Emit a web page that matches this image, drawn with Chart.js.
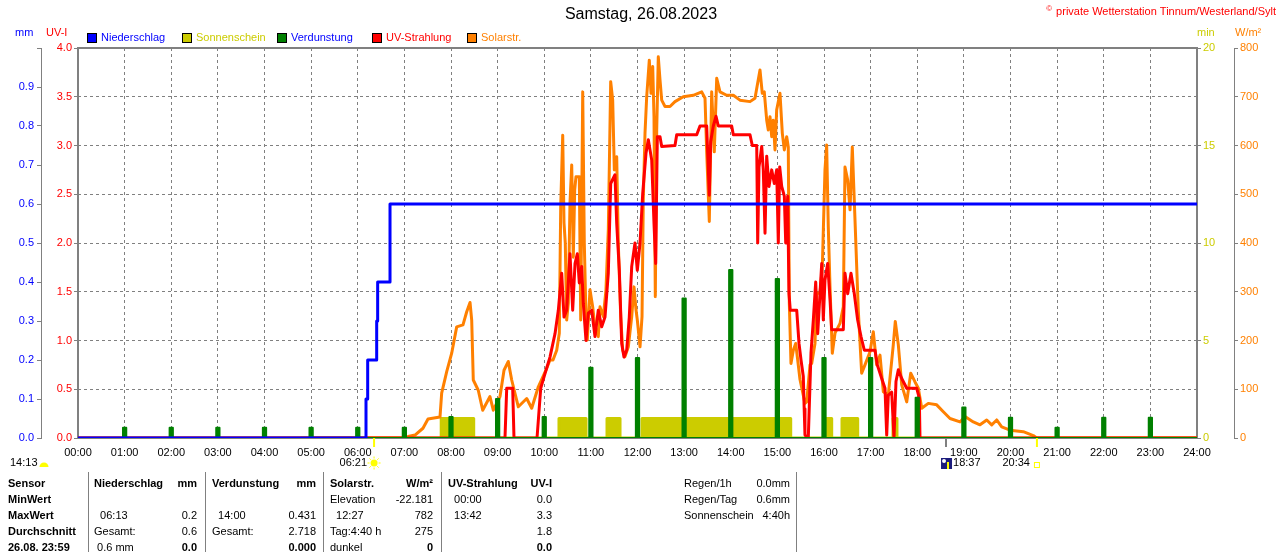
<!DOCTYPE html>
<html>
<head>
<meta charset="utf-8">
<title>Samstag, 26.08.2023</title>
<script src="https://cdn.jsdelivr.net/npm/chart.js@4.4.0/dist/chart.umd.min.js"></script>
<style>
  html, body { margin: 0; padding: 0; background: #fff; }
  #wrap { width: 1280px; height: 552px; position: relative; }
</style>
</head>
<body>
<div id="wrap"><canvas id="weatherChart" width="1280" height="552"></canvas></div>
<script>
// --- data (time in hours of the day) ---
const xTickLabels = ['00:00', '01:00', '02:00', '03:00', '04:00', '05:00', '06:00', '07:00', '08:00',
    '09:00', '10:00', '11:00', '12:00', '13:00', '14:00', '15:00', '16:00', '17:00', '18:00',
    '19:00', '20:00', '21:00', '22:00', '23:00', '24:00'];
const mmTickLabels = ['0.0', '0.1', '0.2', '0.3', '0.4', '0.5', '0.6', '0.7', '0.8', '0.9', ''];
const uvTickLabels = ['0.0', '0.5', '1.0', '1.5', '2.0', '2.5', '3.0', '3.5', '4.0'];
const sunTickLabels = ['0', '5', '10', '15', '20'];
const solarTickLabels = ['0', '100', '200', '300', '400', '500', '600', '700', '800'];

const legendLabels = ['Niederschlag', 'Sonnenschein', 'Verdunstung', 'UV-Strahlung', 'Solarstr.'];

// Niederschlag (mm, cumulative)
const rainTimes = [0, 6.177, 6.213, 6.406, 6.427, 6.692, 24];
const rainValues = [0, 0.1, 0.2, 0.3, 0.4, 0.6, 0.6];

// Sonnenschein (min)
const sunTimes = [4.77, 7.79, 8.487, 10.316, 10.896, 11.346, 11.625, 12.097, 15.286, 16.021, 16.165, 16.386, 16.723, 17.48, 17.565, 24];
const sunValues = [0, 1, 0, 1, 0, 1, 0, 1, 0, 1, 0, 1, 0, 1, 0, 0];

// Verdunstung (mm per hour)
const evapHours = [1, 2, 3, 4, 5, 6, 7, 8, 9, 10, 11, 12, 13, 14, 15, 16, 17, 18, 19, 20, 21, 22, 23];
const evapValues = [0.026, 0.026, 0.026, 0.026, 0.026, 0.026, 0.026, 0.054, 0.1, 0.054, 0.18, 0.205,
    0.358, 0.431, 0.408, 0.205, 0.205, 0.103, 0.078, 0.052, 0.026, 0.052, 0.052];

// UV-Strahlung (UV-I)
const uvTimes = [
    0, 9.158, 9.195, 9.323, 9.351, 9.845, 9.924, 10.016, 10.123, 10.231,
    10.302, 10.374, 10.424, 10.481, 10.552, 10.61, 10.66, 10.709, 10.752, 10.803,
    10.838, 10.895, 10.945, 11.018, 11.088, 11.159, 11.232, 11.303, 11.374, 11.425,
    11.517, 11.554, 11.61, 11.661, 11.71, 11.768, 11.824, 11.876, 11.946, 11.996,
    12.054, 12.112, 12.182, 12.232, 12.305, 12.354, 12.39, 12.425, 12.483, 12.519,
    12.804, 12.841, 13.27, 13.34, 13.484, 13.54, 13.57, 13.626, 13.684, 13.733,
    14.02, 14.055, 14.413, 14.462, 14.557, 14.578, 14.606, 14.664, 14.698, 14.735,
    14.771, 14.82, 14.878, 14.934, 14.985, 15.02, 15.05, 15.093, 15.149, 15.179,
    15.221, 15.249, 15.277, 15.415, 15.464, 15.507, 15.556, 15.575, 15.592, 15.663,
    15.721, 15.771, 15.822, 15.865, 15.914, 15.951, 15.985, 16.021, 16.079, 16.129,
    16.165, 16.414, 16.45, 16.508, 16.579, 16.65, 16.722, 16.794, 16.865, 17.094,
    17.143, 17.238, 17.308, 17.345, 17.379, 17.452, 17.501, 17.544, 17.594, 17.667,
    17.774, 17.989, 18.044, 18.059, 24];
const uvValues = [
    0, 0, 0.51, 0.51, 0, 0, 0.51, 0.66, 0.83, 1.07,
    1.31, 1.69, 1.24, 1.31, 1.89, 1.31, 1.79, 1.89, 1.59, 1.76,
    1.38, 1.0, 1.28, 1.31, 1.04, 1.31, 1.14, 1.24, 1.69, 2.61,
    2.7, 2.2, 1.72, 0.97, 0.83, 0.9, 1.24, 1.76, 2.0, 1.72,
    2.0, 2.51, 2.92, 3.06, 2.85, 2.2, 1.79, 3.09, 3.09, 2.99,
    3.0, 3.11, 3.11, 3.2, 3.2, 2.49, 3.04, 3.2, 3.3, 3.2,
    3.2, 3.11, 3.11, 3.0, 3.0, 2.0, 2.78, 2.99, 2.75, 2.1,
    2.89, 2.58, 2.75, 2.61, 2.75, 2.0, 2.78, 2.58, 2.48, 2.0,
    2.48, 1.48, 1.31, 1.31, 0.97, 0.8, 0.63, 0.3, 0.03, 0,
    0.87, 1.21, 1.6, 1.07, 1.48, 1.79, 1.21, 1.62, 1.79, 1.42,
    1.11, 1.11, 1.69, 1.48, 1.69, 1.48, 1.21, 1.04, 0.9, 0.9,
    0.75, 0.61, 0.51, 0.03, 0.44, 0.47, 0, 0.58, 0.7, 0.61,
    0.51, 0.51, 0.41, 0, 0];

// Solarstrahlung (W/m²)
const solarTimes = [
    0, 7.0, 7.078, 7.228, 7.399, 7.507, 7.764, 7.8, 7.908, 8.015,
    8.122, 8.257, 8.337, 8.408, 8.444, 8.478, 8.585, 8.68, 8.836, 8.907,
    9.051, 9.137, 9.229, 9.302, 9.444, 9.624, 9.731, 9.873, 10.053, 10.123,
    10.188, 10.267, 10.323, 10.353, 10.396, 10.424, 10.451, 10.481, 10.516, 10.552,
    10.589, 10.623, 10.653, 10.681, 10.752, 10.782, 10.825, 10.859, 10.895, 10.923,
    10.981, 11.039, 11.088, 11.159, 11.196, 11.267, 11.324, 11.374, 11.425, 11.468,
    11.503, 11.554, 11.588, 11.64, 11.683, 11.732, 11.803, 11.876, 11.925, 11.968,
    11.996, 12.054, 12.097, 12.124, 12.161, 12.197, 12.253, 12.29, 12.326, 12.354,
    12.382, 12.412, 12.446, 12.483, 12.519, 12.59, 12.697, 12.804, 12.982, 13.197,
    13.377, 13.448, 13.484, 13.54, 13.591, 13.647, 13.699, 13.769, 13.913, 14.055,
    14.198, 14.413, 14.52, 14.627, 14.676, 14.719, 14.771, 14.805, 14.842, 14.878,
    14.912, 14.949, 14.985, 15.056, 15.106, 15.149, 15.2, 15.234, 15.256, 15.292,
    15.342, 15.393, 15.436, 15.485, 15.592, 15.629, 15.7, 15.736, 15.807, 15.843,
    15.914, 15.964, 16.021, 16.057, 16.092, 16.129, 16.178, 16.236, 16.343, 16.414,
    16.45, 16.508, 16.558, 16.607, 16.665, 16.735, 16.808, 16.879, 16.987, 17.057,
    17.13, 17.201, 17.272, 17.379, 17.486, 17.529, 17.594, 17.667, 17.774, 17.86,
    17.952, 18.023, 18.096, 18.237, 18.417, 18.559, 18.703, 18.917, 19.024, 19.202,
    19.346, 19.49, 19.597, 19.704, 19.811, 19.989, 20.275, 20.489, 20.562, 24];
const solarValues = [
    0, 0, 3, 6, 20, 39, 43, 92, 136, 174,
    228, 232, 259, 278, 242, 119, 98, 57, 85, 57,
    85, 139, 157, 119, 64, 81, 61, 105, 143, 160,
    160, 180, 215, 474, 621, 441, 400, 242, 277, 482,
    560, 371, 509, 536, 536, 242, 710, 400, 249, 201,
    304, 269, 228, 208, 269, 249, 304, 427, 731, 693,
    550, 577, 400, 249, 180, 167, 187, 249, 310, 263,
    242, 187, 249, 488, 625, 700, 775, 707, 762, 659,
    290, 632, 782, 734, 693, 680, 680, 690, 700, 703,
    710, 697, 587, 444, 710, 587, 738, 710, 703, 703,
    693, 690, 697, 755, 707, 710, 652, 632, 659, 618,
    652, 591, 673, 707, 625, 591, 618, 597, 277, 153,
    180, 194, 160, 120, 71, 74, 150, 153, 194, 297,
    297, 351, 550, 601, 433, 310, 174, 215, 235, 269,
    556, 529, 468, 597, 447, 263, 133, 150, 177, 218,
    150, 170, 95, 88, 191, 239, 191, 109, 74, 133,
    115, 102, 61, 71, 68, 54, 40, 33, 44, 33,
    27, 37, 27, 37, 23, 16, 13, 5, 0, 0];

// Tabelle unter dem Diagramm
const tableRows = [
    ['Sensor', 'Niederschlag', 'mm', 'Verdunstung', 'mm', 'Solarstr.', 'W/m²', 'UV-Strahlung', 'UV-I'],
    ['MinWert', '', '', '', '', 'Elevation', '-22.181', '  00:00', '0.0'],
    ['MaxWert', '  06:13', '0.2', '  14:00', '0.431', '  12:27', '782', '  13:42', '3.3'],
    ['Durchschnitt', 'Gesamt:', '0.6', 'Gesamt:', '2.718', 'Tag:4:40 h', '275', '', '1.8'],
    ['26.08. 23:59', ' 0.6 mm', '0.0', '', '0.000', 'dunkel', '0', '', '0.0']
];
const statusLabels = ['Regen/1h', 'Regen/Tag', 'Sonnenschein'];
const statusValues = ['0.0mm', '0.6mm', '4:40h'];

// Sonne / Mond (Stunden)
const sunRise = 6.35, sunSet = 20.567, moonSet = 18.617;

const FONT = "'Liberation Sans', Arial, sans-serif";
const GREY = '#808080';

function toPoints(times, values) {
    return times.map((t, i) => ({ x: t, y: values[i] }));
}

// each hourly evaporation value becomes a narrow stepped spike
function spikePoints(hours, values) {
    var pts = [{ x: 0, y: 0 }];
    hours.forEach(function (h, i) {
        pts.push({ x: h - 0.035, y: values[i] });
        pts.push({ x: h + 0.035, y: 0 });
    });
    pts.push({ x: 24, y: 0 });
    return pts;
}

function txt(ctx, s, x, y, color, font, align) {
    ctx.fillStyle = color;
    ctx.font = font;
    ctx.textAlign = align || 'left';
    ctx.textBaseline = 'middle';
    ctx.fillText(s, x, y);
}

const stationTexts = {
    id: 'stationTexts',
    beforeDatasetsDraw: function (chart) {
        var a = chart.chartArea, ctx = chart.ctx;
        ctx.save();
        ctx.strokeStyle = GREY;
        ctx.lineWidth = 2;
        ctx.strokeRect(a.left, a.top, a.right - a.left, a.bottom - a.top);
        ctx.restore();
    },
    afterDraw: function (chart) {
        var ctx = chart.ctx;
        var xs = chart.scales.x;
        var small = '11px ' + FONT, bold = 'bold 11px ' + FONT;
        ctx.save();

        // title + copyright
        txt(ctx, 'Samstag, 26.08.2023', 641, 15, '#000', '16px ' + FONT, 'center');
        txt(ctx, 'private Wetterstation Tinnum/Westerland/Sylt', 1276, 12, '#ff0000', small, 'right');
        var cw = ctx.measureText('private Wetterstation Tinnum/Westerland/Sylt').width;
        txt(ctx, '©', 1276 - cw - 4, 9, '#ff0000', '8px ' + FONT, 'right');

        // axis units
        txt(ctx, 'mm', 15, 33, '#0000ff', small);
        txt(ctx, 'UV-I', 46, 33, '#ff0000', small);
        txt(ctx, 'min', 1197, 33, '#cccc00', small);
        txt(ctx, 'W/m²', 1235, 33, '#ff8000', small);

        // legend
        var legendText = ['#0000ff', '#cccc00', '#0000ff', '#ff0000', '#ff8000'];
        chart.data.datasets.forEach(function (ds, i) {
            var bx = 87 + i * 95;
            ctx.fillStyle = ds.borderColor;
            ctx.fillRect(bx, 33, 10, 10);
            ctx.strokeStyle = '#000';
            ctx.lineWidth = 1;
            ctx.strokeRect(bx + 0.5, 33.5, 9, 9);
            txt(ctx, legendLabels[i], bx + 14, 38, legendText[i], small);
        });

        // sunrise / moonset / sunset marks below the time axis
        var bottom = chart.chartArea.bottom;
        var pr = xs.getPixelForValue(sunRise), pm = xs.getPixelForValue(moonSet), ps = xs.getPixelForValue(sunSet);
        ctx.lineWidth = 2;
        ctx.strokeStyle = '#ffff00';
        ctx.beginPath();
        ctx.moveTo(pr, bottom); ctx.lineTo(pr, bottom + 9);
        ctx.moveTo(ps, bottom); ctx.lineTo(ps, bottom + 9);
        ctx.stroke();
        ctx.strokeStyle = GREY;
        ctx.beginPath();
        ctx.moveTo(pm, bottom); ctx.lineTo(pm, bottom + 9);
        ctx.stroke();

        txt(ctx, '14:13', 10, 463, '#000', small);
        ctx.fillStyle = '#ffff00';
        ctx.beginPath(); ctx.arc(44, 467, 4.5, Math.PI, 0); ctx.fill();

        txt(ctx, '06:21', pr - 7, 463, '#000', small, 'right');
        ctx.fillStyle = '#ffff00';
        ctx.beginPath(); ctx.arc(pr, 463, 3.5, 0, Math.PI * 2); ctx.fill();
        ctx.strokeStyle = '#ffff00'; ctx.lineWidth = 1;
        for (var k = 0; k < 8; k++) {
            var an = k * Math.PI / 4;
            ctx.beginPath();
            ctx.moveTo(pr + Math.cos(an) * 4.5, 463 + Math.sin(an) * 4.5);
            ctx.lineTo(pr + Math.cos(an) * 6.5, 463 + Math.sin(an) * 6.5);
            ctx.stroke();
        }

        ctx.fillStyle = '#1c1c7c';
        ctx.fillRect(pm - 5, 458, 11, 11);
        ctx.fillStyle = '#ffffff';
        ctx.beginPath(); ctx.arc(pm - 2, 461, 2, 0, Math.PI * 2); ctx.fill();
        ctx.fillStyle = '#ffff00';
        ctx.fillRect(pm + 1, 462, 2, 7);
        txt(ctx, '18:37', pm + 7, 463, '#000', small);

        txt(ctx, '20:34', ps - 7, 463, '#000', small, 'right');
        ctx.strokeStyle = '#ffff00'; ctx.lineWidth = 1;
        ctx.strokeRect(ps - 2.5, 462.5, 5, 5);

        // table
        var colX = [8, 94, 197, 212, 316, 330, 433, 448, 552];
        var colAlign = ['left', 'left', 'right', 'left', 'right', 'left', 'right', 'left', 'right'];
        tableRows.forEach(function (row, r) {
            var y = 484 + r * 16;
            row.forEach(function (cell, c) {
                var isBold = r === 0 || c === 0 || (r === 4 && colAlign[c] === 'right');
                txt(ctx, cell, colX[c], y, '#000', isBold ? bold : small, colAlign[c]);
            });
        });
        statusLabels.forEach(function (s, r) {
            txt(ctx, s, 684, 484 + r * 16, '#000', small);
            txt(ctx, statusValues[r], 790, 484 + r * 16, '#000', small, 'right');
        });
        ctx.strokeStyle = GREY;
        ctx.lineWidth = 1;
        [88, 205, 323, 441, 796].forEach(function (lx) {
            ctx.beginPath();
            ctx.moveTo(lx + 0.5, 472);
            ctx.lineTo(lx + 0.5, 552);
            ctx.stroke();
        });
        ctx.restore();
    }
};

document.addEventListener('DOMContentLoaded', function () {
    var ctx = document.getElementById('weatherChart').getContext('2d');
    var tickFont = { family: FONT, size: 11 };

    new Chart(ctx, {
        type: 'line',
        data: {
            datasets: [{
                label: legendLabels[0],
                data: toPoints(rainTimes, rainValues),
                yAxisID: 'yRain',
                borderColor: '#0000ff',
                borderWidth: 3,
                stepped: true,
                order: 1
            }, {
                label: legendLabels[1],
                data: toPoints(sunTimes, sunValues),
                yAxisID: 'ySun',
                borderColor: '#cccc00',
                backgroundColor: '#cccc00',
                borderWidth: 3,
                fill: 'origin',
                stepped: true,
                order: 5
            }, {
                label: legendLabels[2],
                data: spikePoints(evapHours, evapValues),
                yAxisID: 'yRain',
                borderColor: '#008000',
                backgroundColor: '#008000',
                borderWidth: 2,
                fill: 'origin',
                stepped: true,
                order: 2
            }, {
                label: legendLabels[3],
                data: toPoints(uvTimes, uvValues),
                yAxisID: 'yUV',
                borderColor: '#ff0000',
                borderWidth: 3,
                order: 3
            }, {
                label: legendLabels[4],
                data: toPoints(solarTimes, solarValues),
                yAxisID: 'ySolar',
                borderColor: '#ff8000',
                borderWidth: 3,
                order: 4
            }]
        },
        options: {
            responsive: false,
            animation: false,
            events: [],
            layout: { padding: { top: 48 } },
            elements: {
                point: { radius: 0, hoverRadius: 0 },
                line: { tension: 0, borderJoinStyle: 'round', fill: false }
            },
            plugins: {
                legend: { display: false },
                tooltip: { enabled: false },
                title: { display: false }
            },
            scales: {
                x: {
                    type: 'linear',
                    min: 0,
                    max: 24,
                    afterFit: function (scale) { scale.height = 114; },
                    ticks: {
                        stepSize: 1,
                        autoSkip: false,
                        maxRotation: 0,
                        padding: 8,
                        color: '#000',
                        font: tickFont,
                        callback: function (value, index) { return xTickLabels[index]; }
                    },
                    grid: { color: GREY, lineWidth: 1, drawTicks: false },
                    border: { display: false, dash: [3, 3] }
                },
                yRain: {
                    position: 'left',
                    weight: 1,
                    min: 0,
                    max: 1,
                    afterFit: function (scale) { scale.width = 41; },
                    ticks: {
                        stepSize: 0.1,
                        padding: 3,
                        color: '#0000ff',
                        font: tickFont,
                        callback: function (value, index) { return mmTickLabels[index]; }
                    },
                    grid: { drawOnChartArea: false, color: GREY, tickLength: 4 },
                    border: { display: true, color: GREY, width: 1 }
                },
                yUV: {
                    position: 'left',
                    weight: 0,
                    min: 0,
                    max: 4,
                    afterFit: function (scale) { scale.width = 37; },
                    ticks: {
                        stepSize: 0.5,
                        padding: 2,
                        color: '#ff0000',
                        font: tickFont,
                        callback: function (value, index) { return uvTickLabels[index]; }
                    },
                    grid: { color: GREY, lineWidth: 1, tickLength: 4, tickBorderDash: [] },
                    border: { display: false, dash: [3, 3] }
                },
                ySun: {
                    position: 'right',
                    weight: 0,
                    min: 0,
                    max: 20,
                    afterFit: function (scale) { scale.width = 37; },
                    ticks: {
                        stepSize: 5,
                        padding: 2,
                        color: '#cccc00',
                        font: tickFont,
                        callback: function (value, index) { return sunTickLabels[index]; }
                    },
                    grid: { drawOnChartArea: false, color: GREY, tickLength: 4 },
                    border: { display: false }
                },
                ySolar: {
                    position: 'right',
                    weight: 1,
                    min: 0,
                    max: 800,
                    afterFit: function (scale) { scale.width = 46; },
                    ticks: {
                        stepSize: 100,
                        padding: 2,
                        color: '#ff8000',
                        font: tickFont,
                        callback: function (value, index) { return solarTickLabels[index]; }
                    },
                    grid: { drawOnChartArea: false, color: GREY, tickLength: 4 },
                    border: { display: true, color: GREY, width: 1 }
                }
            }
        },
        plugins: [stationTexts]
    });
});
</script>
</body>
</html>
